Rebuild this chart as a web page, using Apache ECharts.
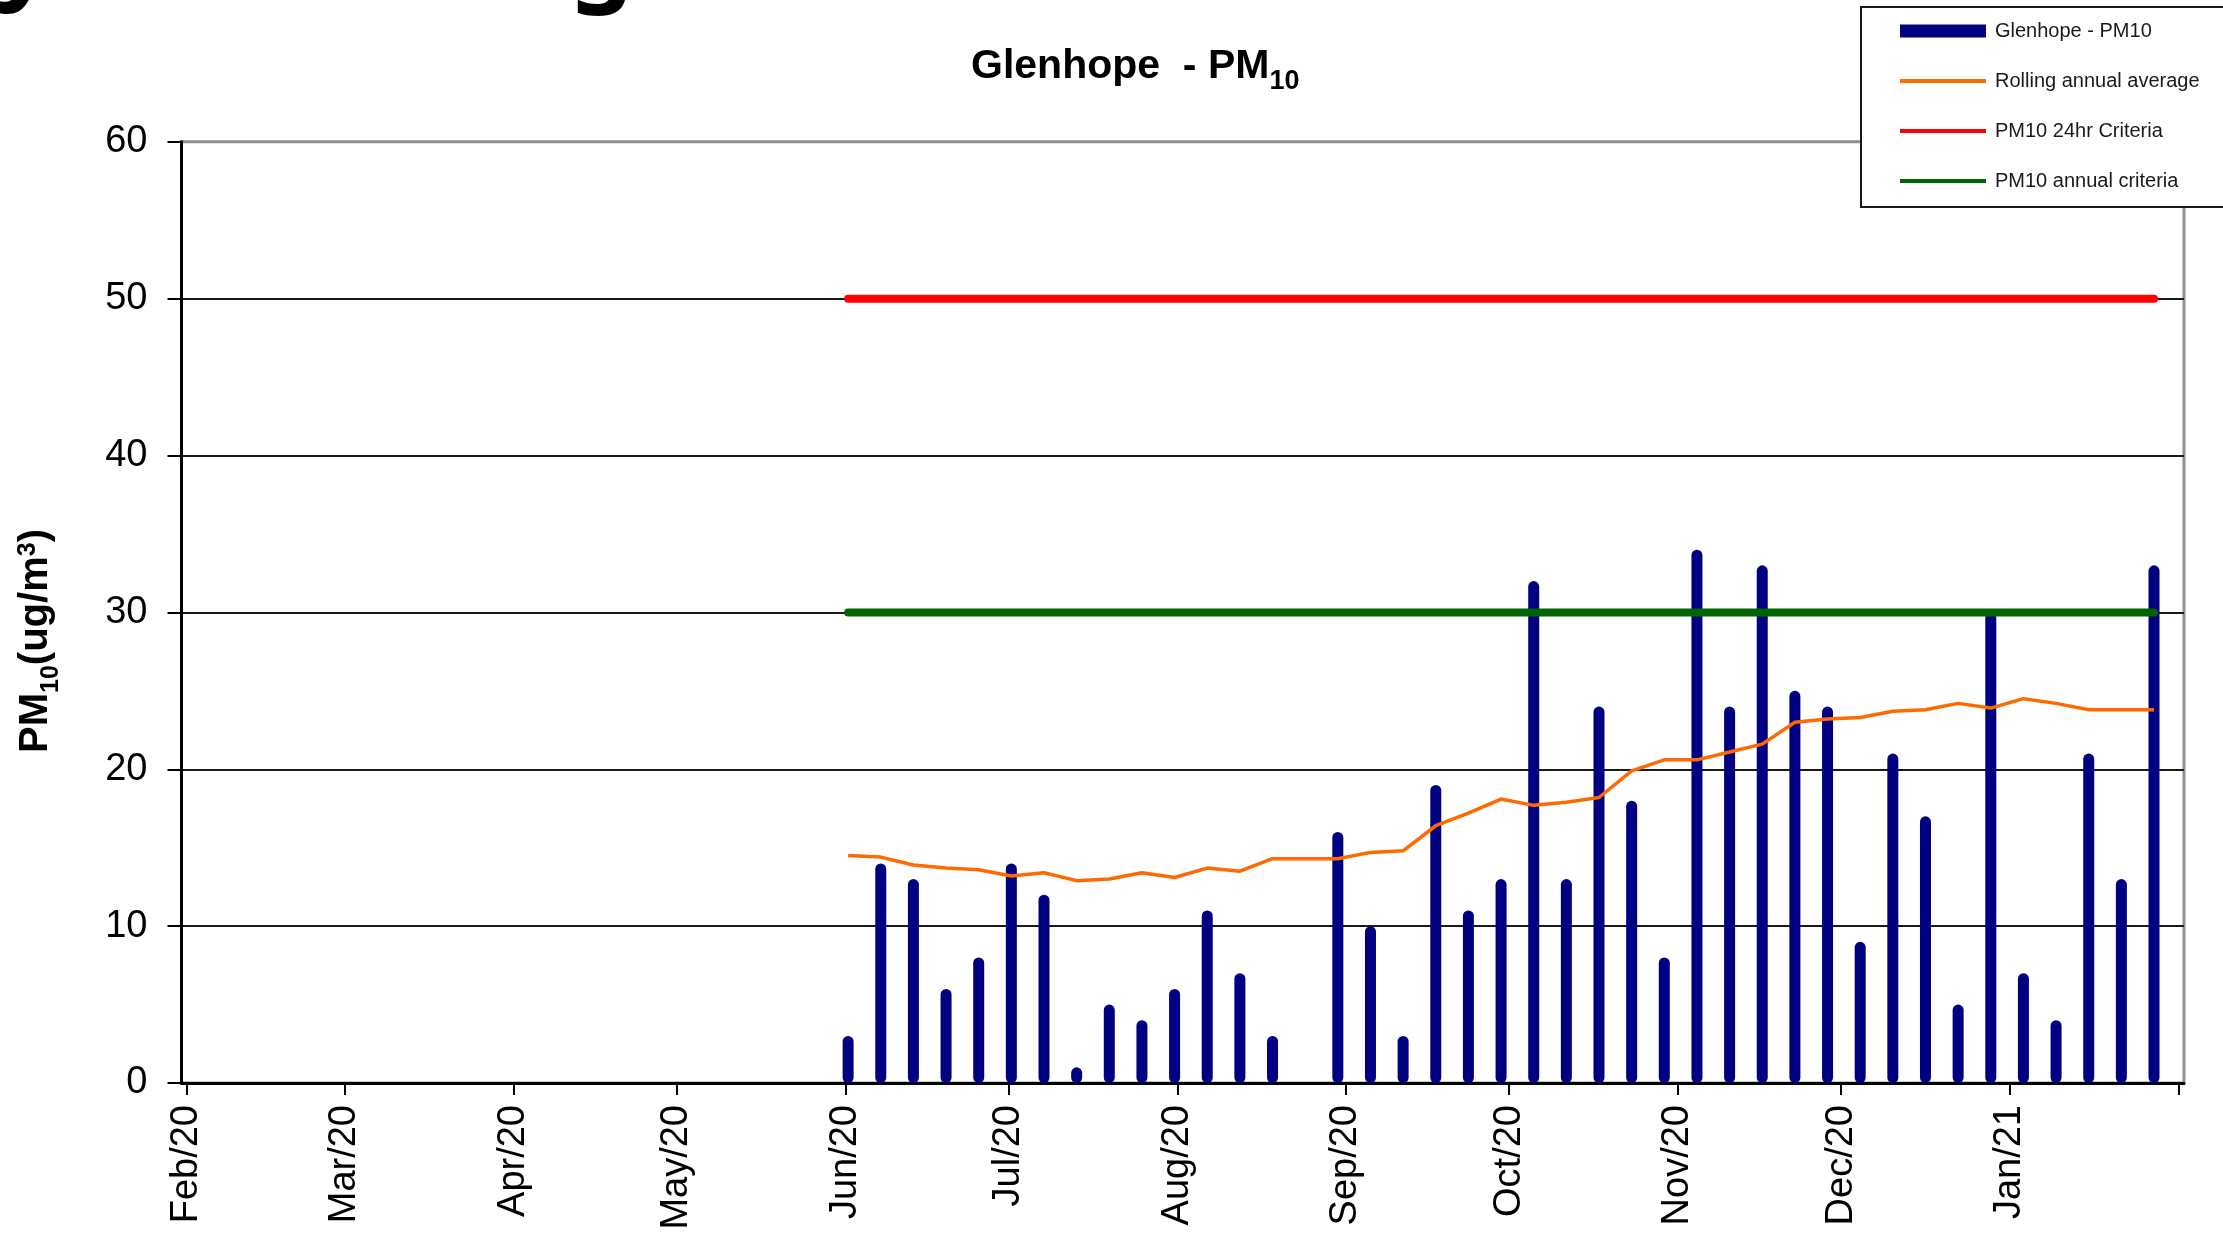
<!DOCTYPE html>
<html>
<head>
<meta charset="utf-8">
<script src="https://cdn.jsdelivr.net/npm/echarts@6/dist/echarts.min.js"></script>
<style>
html,body{margin:0;padding:0;background:#ffffff;}
#chart{width:2223px;height:1235px;}
</style>
</head>
<body>
<div id="chart"></div>
<script>
// ---- data ----
const sampleDates = [
  '2020-06-01','2020-06-07','2020-06-13','2020-06-19','2020-06-25',
  '2020-07-01','2020-07-07','2020-07-13','2020-07-19','2020-07-25','2020-07-31',
  '2020-08-06','2020-08-12','2020-08-18','2020-08-24','2020-08-30',
  '2020-09-05','2020-09-11','2020-09-17','2020-09-23','2020-09-29',
  '2020-10-05','2020-10-11','2020-10-17','2020-10-23','2020-10-29',
  '2020-11-04','2020-11-10','2020-11-16','2020-11-22','2020-11-28',
  '2020-12-04','2020-12-10','2020-12-16','2020-12-22','2020-12-28',
  '2021-01-03','2021-01-09','2021-01-15','2021-01-21','2021-01-27'
];
const pm10Values = [
  3, 14, 13, 6, 8,
  14, 12, 1, 5, 4, 6,
  11, 7, 3, null, 16,
  10, 3, 19, 11, 13,
  32, 13, 24, 18, 8,
  34, 24, 33, 25, 24,
  9, 21, 17, 5, 30,
  7, 4, 21, 13, 33
];
const rollingAverage = [
  14.5, 14.4, 13.9, 13.7, 13.6,
  13.2, 13.4, 12.9, 13.0, 13.4, 13.1,
  13.7, 13.5, 14.3, 14.3, 14.3,
  14.7, 14.8, 16.4, 17.2, 18.1,
  17.7, 17.9, 18.2, 19.9, 20.6,
  20.6, 21.1, 21.6, 23.0, 23.2,
  23.3, 23.7, 23.8, 24.2, 23.9,
  24.5, 24.2, 23.8, 23.8, 23.8
];
const criteriaDates = ['2020-06-01', '2021-01-27'];
const criteria24hr = [50, 50];
const criteriaAnnual = [30, 30];
const monthLabels = ['Feb/20','Mar/20','Apr/20','May/20','Jun/20','Jul/20','Aug/20','Sep/20','Oct/20','Nov/20','Dec/20','Jan/21'];
const axisStart = '2020-02-01';
const axisEnd = '2021-02-01';
const yMin = 0, yMax = 60, yStep = 10;
const seriesNames = ['Glenhope - PM10', 'Rolling annual average', 'PM10 24hr Criteria', 'PM10 annual criteria'];

// ---- helpers ----
const dayStart = s => new Date(s + 'T00:00:00').getTime();
const sampleTime = s => new Date(s + 'T12:00:00').getTime();
const pairs = (ds, vs) => ds.map((d, i) => [sampleTime(d), vs[i]]);

const FONT = '"Liberation Sans", Arial, sans-serif';
const startDate = new Date(axisStart + 'T00:00:00');
const gridLineColors = [];
for (let v = yMin; v <= yMax; v += yStep) gridLineColors.push(v === yMax ? '#8f8f8f' : '#1a1a1a');

const lineIcon = 'path://M0,0L86,0L86,4L0,4Z';

const chart = echarts.init(document.getElementById('chart'), null, {renderer: 'canvas'});
chart.setOption({
  animation: false,
  backgroundColor: '#ffffff',
  title: {
    text: '{a|Glenhope  - PM}{b|10}',
    left: 971,
    top: 46,
    padding: 0,
    textStyle: {
      rich: {
        a: {fontFamily: FONT, fontWeight: 'bold', fontSize: 41, color: '#000', verticalAlign: 'bottom', padding: [0, 0, 8, 0]},
        b: {fontFamily: FONT, fontWeight: 'bold', fontSize: 27, color: '#000', verticalAlign: 'bottom'}
      }
    }
  },
  legend: {
    orient: 'vertical',
    left: 1861,
    top: 7,
    padding: [14, 40, 16, 39],
    borderColor: '#1a1a1a',
    borderWidth: 2,
    backgroundColor: '#ffffff',
    itemWidth: 86,
    itemHeight: 13,
    itemGap: 30,
    selectedMode: false,
    symbolKeepAspect: true,
    textStyle: {fontFamily: FONT, fontSize: 20, color: '#1a1a1a', padding: [0, 0, 0, 4]},
    data: [
      {name: seriesNames[0], icon: 'rect', itemStyle: {color: '#000080', borderWidth: 0}},
      {name: seriesNames[1], icon: lineIcon, itemStyle: {color: '#ff6a00', borderWidth: 0}},
      {name: seriesNames[2], icon: lineIcon, itemStyle: {color: '#ff0000', borderWidth: 0}},
      {name: seriesNames[3], icon: lineIcon, itemStyle: {color: '#006400', borderWidth: 0}}
    ]
  },
  grid: {
    left: 181.5, right: 39, top: 141.8, bottom: 152,
    show: true, borderColor: '#8f8f8f', borderWidth: 3,
    backgroundColor: 'transparent',
    containLabel: false,
    outerBoundsMode: 'none'
  },
  xAxis: {
    type: 'time',
    min: dayStart(axisStart),
    max: dayStart(axisEnd),
    splitNumber: 12,
    axisLine: {show: true, lineStyle: {color: '#000', width: 3}},
    axisTick: {show: true, inside: false, length: 12, lineStyle: {color: '#000', width: 2}},
    splitLine: {show: false},
    axisLabel: {
      show: true,
      rotate: 90,
      margin: 22,
      fontFamily: FONT,
      fontSize: 38,
      color: '#000',
      hideOverlap: false,
      formatter: function (value) {
        const d = new Date(value);
        const idx = (d.getFullYear() - startDate.getFullYear()) * 12 + d.getMonth() - startDate.getMonth();
        return monthLabels[idx] || '';
      }
    }
  },
  yAxis: {
    type: 'value',
    min: yMin, max: yMax, interval: yStep,
    axisLine: {show: true, lineStyle: {color: '#000', width: 3}},
    axisTick: {show: true, inside: false, length: 14, lineStyle: {color: '#000', width: 2}},
    axisLabel: {margin: 34, fontFamily: FONT, fontSize: 38, color: '#000'},
    splitLine: {show: true, lineStyle: {color: gridLineColors, width: 2}}
  },
  graphic: [
    {
      type: 'text',
      x: 40, y: 641,
      rotation: Math.PI / 2,
      style: {
        text: '{a|PM}{s|10}{a|(ug/m}{p|3}{a|)}',
        align: 'center', verticalAlign: 'middle',
        rich: {
          a: {fontFamily: FONT, fontWeight: 'bold', fontSize: 40, fill: '#000', verticalAlign: 'bottom', padding: [0, 0, 8, 0]},
          s: {fontFamily: FONT, fontWeight: 'bold', fontSize: 25, fill: '#000', verticalAlign: 'bottom'},
          p: {fontFamily: FONT, fontWeight: 'bold', fontSize: 25, fill: '#000', verticalAlign: 'top'}
        }
      }
    },
    {
      type: 'text', left: -4, top: -88,
      style: {text: 'y', fontFamily: '"Noto Sans", sans-serif', fontWeight: 'bold', fontSize: 100, fill: '#000'}
    },
    {
      type: 'text', left: 570, top: -86,
      style: {text: 'g', fontFamily: '"Noto Sans", sans-serif', fontWeight: 'bold', fontSize: 100, fill: '#000'}
    }
  ],
  series: [
    {
      name: seriesNames[0],
      type: 'bar',
      barWidth: 11,
      itemStyle: {color: '#000080', borderRadius: 5.5},
      data: pairs(sampleDates, pm10Values)
    },
    {
      name: seriesNames[1],
      type: 'line',
      symbol: 'none',
      symbolKeepAspect: true,
      itemStyle: {color: '#ff6a00'},
      lineStyle: {color: '#ff6a00', width: 3.5},
      data: pairs(sampleDates, rollingAverage)
    },
    {
      name: seriesNames[2],
      type: 'line',
      symbol: 'none',
      symbolKeepAspect: true,
      itemStyle: {color: '#ff0000'},
      lineStyle: {color: '#ff0000', width: 8, cap: 'round'},
      data: pairs(criteriaDates, criteria24hr)
    },
    {
      name: seriesNames[3],
      type: 'line',
      symbol: 'none',
      symbolKeepAspect: true,
      itemStyle: {color: '#006400'},
      lineStyle: {color: '#006400', width: 8, cap: 'round'},
      data: pairs(criteriaDates, criteriaAnnual)
    }
  ]
});
</script>
</body>
</html>
